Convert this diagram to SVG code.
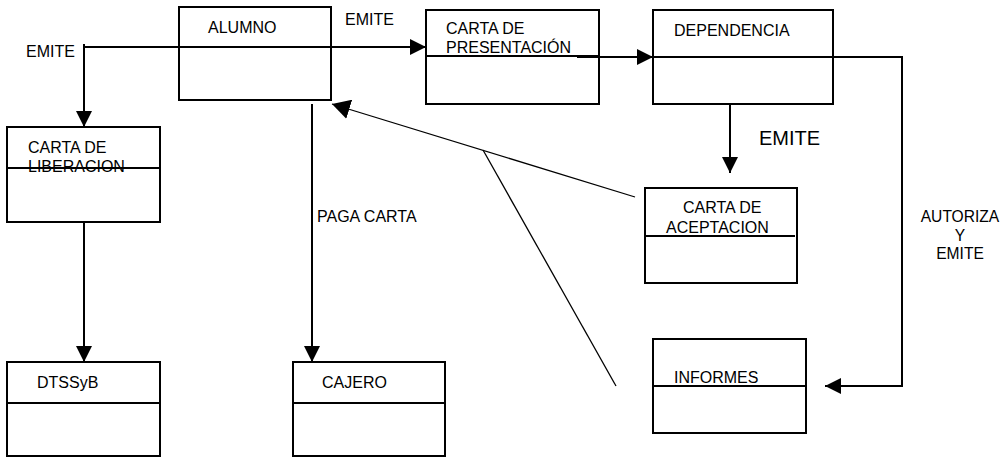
<svg xmlns="http://www.w3.org/2000/svg" width="1006" height="459" viewBox="0 0 1006 459">
  <style>
    .box { fill: #fff; stroke: #000; stroke-width: 2; }
    .div { stroke: #000; stroke-width: 2; fill: none; }
    .con { stroke: #000; stroke-width: 2; fill: none; }
    .thin { stroke: #000; stroke-width: 1.3; fill: none; }
    text { font-family: "Liberation Sans", Arial, sans-serif; font-size: 16px; fill: #000; }
  </style>
  <defs>
    <marker id="arrow" viewBox="0 0 16 16" refX="16" refY="8" markerWidth="16" markerHeight="16" markerUnits="userSpaceOnUse" orient="auto">
      <path d="M0,0 L16,8 L0,16 Z" fill="#000"/>
    </marker>
    <marker id="arrow-lg" viewBox="0 0 18 20" refX="18" refY="10" markerWidth="18" markerHeight="20" markerUnits="userSpaceOnUse" orient="auto">
      <path d="M0,0 L18,10 L0,20 Z" fill="#000"/>
    </marker>
  </defs>
  <rect width="1006" height="459" fill="#fff"/>

  <g id="alumno">
    <rect class="box" x="179" y="7" width="152" height="93"/>
    <line class="div" x1="179" y1="47" x2="331" y2="47"/>
    <text x="208" y="33">ALUMNO</text>
  </g>

  <g id="carta-presentacion">
    <rect class="box" x="426" y="10" width="173" height="94"/>
    <line class="div" x1="426" y1="56" x2="599" y2="56"/>
    <text x="446" y="34">CARTA DE</text>
    <text x="446" y="53">PRESENTACIÓN</text>
  </g>

  <g id="dependencia">
    <rect class="box" x="653" y="10" width="180" height="94"/>
    <line class="div" x1="653" y1="57" x2="833" y2="57"/>
    <text x="674" y="36">DEPENDENCIA</text>
  </g>

  <g id="carta-liberacion">
    <rect class="box" x="7" y="127" width="153" height="95"/>
    <line class="div" x1="7" y1="168" x2="160" y2="168"/>
    <text x="28" y="153">CARTA DE</text>
    <text x="28" y="172">LIBERACION</text>
  </g>

  <g id="carta-aceptacion">
    <rect class="box" x="645" y="188" width="152" height="95"/>
    <line class="div" x1="645" y1="236" x2="795" y2="236"/>
    <text x="683" y="213">CARTA DE</text>
    <text x="666" y="233">ACEPTACION</text>
  </g>

  <g id="dtssyb">
    <rect class="box" x="7" y="362" width="153" height="94"/>
    <line class="div" x1="7" y1="403" x2="160" y2="403"/>
    <text x="37" y="388">DTSSyB</text>
  </g>

  <g id="cajero">
    <rect class="box" x="293" y="362" width="152" height="94"/>
    <line class="div" x1="293" y1="403" x2="445" y2="403"/>
    <text x="322" y="388">CAJERO</text>
  </g>

  <g id="informes">
    <rect class="box" x="653" y="339" width="153" height="94"/>
    <line class="div" x1="653" y1="386" x2="806" y2="386"/>
    <text x="674" y="383">INFORMES</text>
  </g>

  <g id="connectors">
    <!-- ALUMNO emits: left branch and right branch along the same line -->
    <line class="con" x1="84" y1="47" x2="331" y2="47"/>
    <line class="con" x1="331" y1="47" x2="426" y2="47" marker-end="url(#arrow)"/>
    <line class="con" x1="84" y1="44" x2="84" y2="127" marker-end="url(#arrow)"/>
    <!-- presentation letter to DEPENDENCIA -->
    <line class="con" x1="577" y1="57" x2="653" y2="57" marker-end="url(#arrow)"/>
    <!-- DEPENDENCIA emits acceptance letter -->
    <line class="con" x1="730" y1="104" x2="730" y2="173" marker-end="url(#arrow)"/>
    <!-- DEPENDENCIA authorizes and emits reports -->
    <polyline class="con" points="833,57 902,57 902,386 825,386" marker-end="url(#arrow)"/>
    <!-- liberation letter to DTSSyB -->
    <line class="con" x1="84" y1="222" x2="84" y2="362" marker-end="url(#arrow)"/>
    <!-- ALUMNO pays at CAJERO -->
    <line class="con" x1="312" y1="104" x2="312" y2="362" marker-end="url(#arrow)"/>
    <!-- acceptance letter and reports back to ALUMNO -->
    <line class="thin" x1="635" y1="197" x2="332" y2="104" marker-end="url(#arrow-lg)" stroke-width="1.6"/>
    <line class="thin" x1="483" y1="150" x2="616" y2="386"/>
  </g>

  <g id="labels">
    <text x="26" y="57">EMITE</text>
    <text x="345" y="25">EMITE</text>
    <text x="759" y="145" style="font-size:20px">EMITE</text>
    <text x="317" y="222">PAGA CARTA</text>
    <text x="960" y="222" text-anchor="middle" style="font-size:15.6px">AUTORIZA</text>
    <text x="960" y="241" text-anchor="middle" style="font-size:15.6px">Y</text>
    <text x="960" y="259" text-anchor="middle" style="font-size:15.6px">EMITE</text>
  </g>
</svg>
